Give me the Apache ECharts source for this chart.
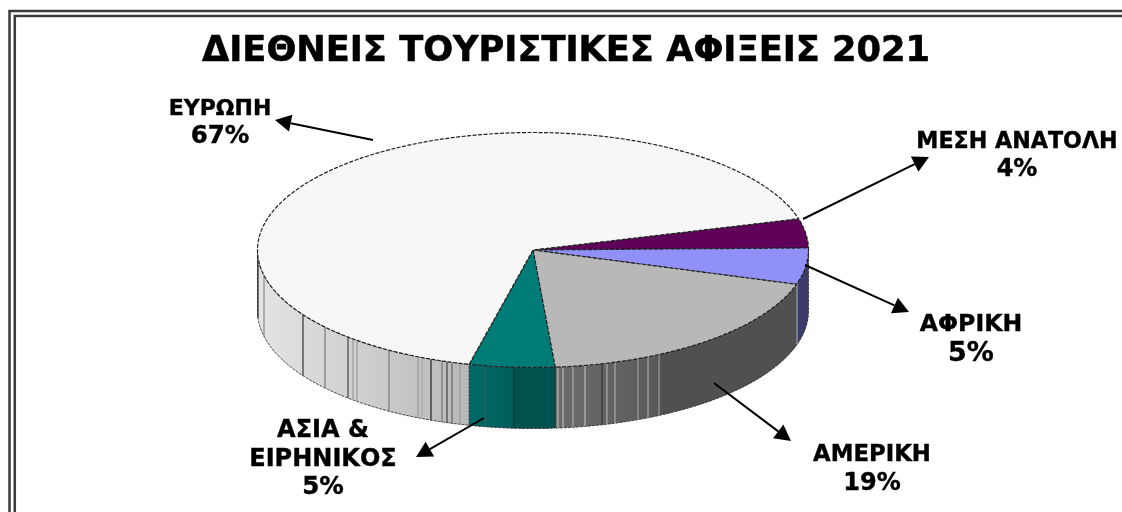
<!DOCTYPE html>
<html>
<head>
<meta charset="utf-8">
<title>ΔΙΕΘΝΕΙΣ ΤΟΥΡΙΣΤΙΚΕΣ ΑΦΙΞΕΙΣ 2021</title>
<style>
  html, body { margin: 0; padding: 0; background: #fff; }
  #main { width: 1122px; height: 512px; }
</style>
<script src="https://cdn.jsdelivr.net/npm/echarts@6/dist/echarts.min.js"></script>
</head>
<body>
<div id="main"></div>
<script>
// 数据
const titleText = 'ΔΙΕΘΝΕΙΣ ΤΟΥΡΙΣΤΙΚΕΣ ΑΦΙΞΕΙΣ 2021';
const regions = ['ΜΕΣΗ ΑΝΑΤΟΛΗ', 'ΑΦΡΙΚΗ', 'ΑΜΕΡΙΚΗ', 'ΑΣΙΑ &\nΕΙΡΗΝΙΚΟΣ', 'ΕΥΡΩΠΗ'];
const shares = [4, 5, 19, 5, 67];

// 样式
const topColors = ['#5f0059', '#9090f8', '#b8b8b8', '#007c78', '#f7f7f7'];
const wallColors = ['#2e0030', '#3c3c6c', '#505050', '#00605c', '#d4d4d4'];
const font = '"DejaVu Sans", Verdana, sans-serif';

// 椭圆饼的几何参数
const cx = 533, cy = 250, rx = 275.5, ry = 117.5, depth = 61;
const startAngle = -15.4;

// 侧面的竖条纹（只是装饰）
const streaks = [
    [258, '#222'], [264, '#888'], [303, '#333'], [325, '#777'], [348, '#444'], [353, '#999'], [357, '#999'], [389, '#777'],
    [418, '#999'], [422, '#aaa'], [431, '#222'], [442, '#777'], [447, '#444'], [452, '#666'],
    [460, '#999'], [485, '#3a5f5c'], [514, '#003f3c'],
    [558, '#bbb'], [563, '#bbb'], [573, '#aaa'], [585, '#bbb'], [602, '#333'], [607, '#aaa'],
    [615, '#aaa'], [638, '#999'], [648, '#aaa'], [659, '#999'], [797, '#aaa']
];

// 标注：文字中心和行高，箭头起点和终点
const labelPos = [[1017, 142, 28], [971, 325, 29], [872, 455, 29], [323, 431, 28.5], [220, 109, 28]];
const nameSize = [22.2, 23.6, 22.8, 24, 22];
const percentSize = [24, 27, 24, 24.5, 24.5];
const arrows = [
    [[803, 219], [929, 157]],
    [[805, 265], [909, 312]],
    [[714, 383], [791, 441]],
    [[484, 418], [416, 457]],
    [[373, 140], [275, 120]]
];

function rimPoint(deg, dy) {
    const a = deg * Math.PI / 180;
    return [cx + rx * Math.cos(a), cy + ry * Math.sin(a) + (dy || 0)];
}

// 每个扇区的起止角度
const sliceAngles = [];
let cursor = startAngle;
const total = shares.reduce(function (s, v) { return s + v; }, 0);
shares.forEach(function (v) {
    const next = cursor + v / total * 360;
    sliceAngles.push([cursor, next]);
    cursor = next;
});

function arcPoints(from, to, dy) {
    const pts = [];
    const n = Math.max(2, Math.ceil(Math.abs(to - from)));
    for (let i = 0; i <= n; i++) {
        pts.push(rimPoint(from + (to - from) * i / n, dy));
    }
    return pts;
}

function renderWall(params) {
    const ang = sliceAngles[params.dataIndex];
    const from = Math.max(ang[0], 0), to = Math.min(ang[1], 180);
    if (to <= from) return null;
    let fill = wallColors[params.dataIndex];
    if (params.dataIndex === 4) {
        fill = new echarts.graphic.LinearGradient(0, 0, 1, 0, [
            { offset: 0, color: '#e4e4e4' },
            { offset: 1, color: '#b8b8b8' }
        ]);
    } else if (params.dataIndex === 3) {
        fill = new echarts.graphic.LinearGradient(0, 0, 1, 0, [
            { offset: 0, color: '#006a66' },
            { offset: 0.5, color: '#005f5b' },
            { offset: 0.51, color: '#00524e' },
            { offset: 1, color: '#00524e' }
        ]);
    } else if (params.dataIndex === 2) {
        fill = new echarts.graphic.LinearGradient(0, 0, 1, 0, [
            { offset: 0, color: '#6c6c6c' },
            { offset: 0.4, color: '#5c5c5c' },
            { offset: 0.45, color: '#505050' },
            { offset: 1, color: '#505050' }
        ]);
    }
    const pts = arcPoints(from, to, 0).concat(arcPoints(to, from, depth));
    return {
        type: 'polygon',
        shape: { points: pts },
        style: { fill: fill, stroke: '#222', lineWidth: 0.8, lineDash: [3, 1] }
    };
}

function renderStreak(params, api) {
    const x = api.value(0);
    const t = (x - cx) / rx;
    const y = cy + ry * Math.sqrt(1 - t * t);
    return {
        type: 'line',
        shape: { x1: x, y1: y, x2: x, y2: y + depth },
        style: { stroke: streaks[params.dataIndex][1], lineWidth: 1.2 }
    };
}

function renderTop(params) {
    const ang = sliceAngles[params.dataIndex];
    const pts = [[cx, cy]].concat(arcPoints(ang[0], ang[1], 0));
    return {
        type: 'polygon',
        shape: { points: pts },
        style: { fill: topColors[params.dataIndex], stroke: '#222', lineWidth: 1.2, lineDash: [4, 1.5] }
    };
}

// 外框（右边和下边超出画面）
const graphics = [
    { type: 'rect', shape: { x: 9.5, y: 11, width: 1300, height: 700 }, style: { fill: 'none', stroke: '#3a3a3a', lineWidth: 2.5 } },
    { type: 'rect', shape: { x: 14.8, y: 16, width: 1300, height: 700 }, style: { fill: 'none', stroke: '#3a3a3a', lineWidth: 2.5 } }
];

// 箭头
arrows.forEach(function (arrow) {
    const from = arrow[0], to = arrow[1];
    const dx = to[0] - from[0], dy = to[1] - from[1];
    const len = Math.sqrt(dx * dx + dy * dy);
    const ux = dx / len, uy = dy / len;
    const bx = to[0] - ux * 16, by = to[1] - uy * 16;
    graphics.push({
        type: 'line',
        z: 10,
        shape: { x1: from[0], y1: from[1], x2: bx, y2: by },
        style: { stroke: '#000', lineWidth: 2 }
    });
    graphics.push({
        type: 'polygon',
        z: 10,
        shape: { points: [to, [bx - uy * 8.5, by + ux * 8.5], [bx + uy * 8.5, by - ux * 8.5]] },
        style: { fill: '#000' }
    });
});

// 文字标注
regions.forEach(function (name, i) {
    const lines = name.split('\n').concat([shares[i] + '%']);
    const pos = labelPos[i];
    lines.forEach(function (line, k) {
        graphics.push({
            type: 'text',
            z: 11,
            x: pos[0],
            y: pos[1] + k * pos[2],
            style: {
                text: line,
                fill: '#000',
                stroke: '#000',
                lineWidth: 0.4,
                align: 'center',
                verticalAlign: 'middle',
                font: 'bold ' + (k === lines.length - 1 ? percentSize[i] : nameSize[i]) + 'px ' + font
            }
        });
    });
});

const chart = echarts.init(document.getElementById('main'));
chart.setOption({
    animation: false,
    backgroundColor: '#fff',
    title: {
        text: titleText,
        left: 561,
        top: 29,
        textAlign: 'center',
        textStyle: { fontFamily: font, fontWeight: 'bold', fontSize: 35.2, color: '#000', textBorderColor: '#000', textBorderWidth: 0.6 }
    },
    tooltip: { show: false },
    graphic: graphics,
    series: [
        { name: 'wall', type: 'custom', coordinateSystem: 'none', z: 2, silent: true, renderItem: renderWall, data: shares },
        { name: 'streaks', type: 'custom', coordinateSystem: 'none', z: 3, silent: true, renderItem: renderStreak, data: streaks.map(function (s) { return s[0]; }) },
        { name: 'top', type: 'custom', coordinateSystem: 'none', z: 4, silent: true, renderItem: renderTop, data: shares }
    ]
});
</script>
</body>
</html>
